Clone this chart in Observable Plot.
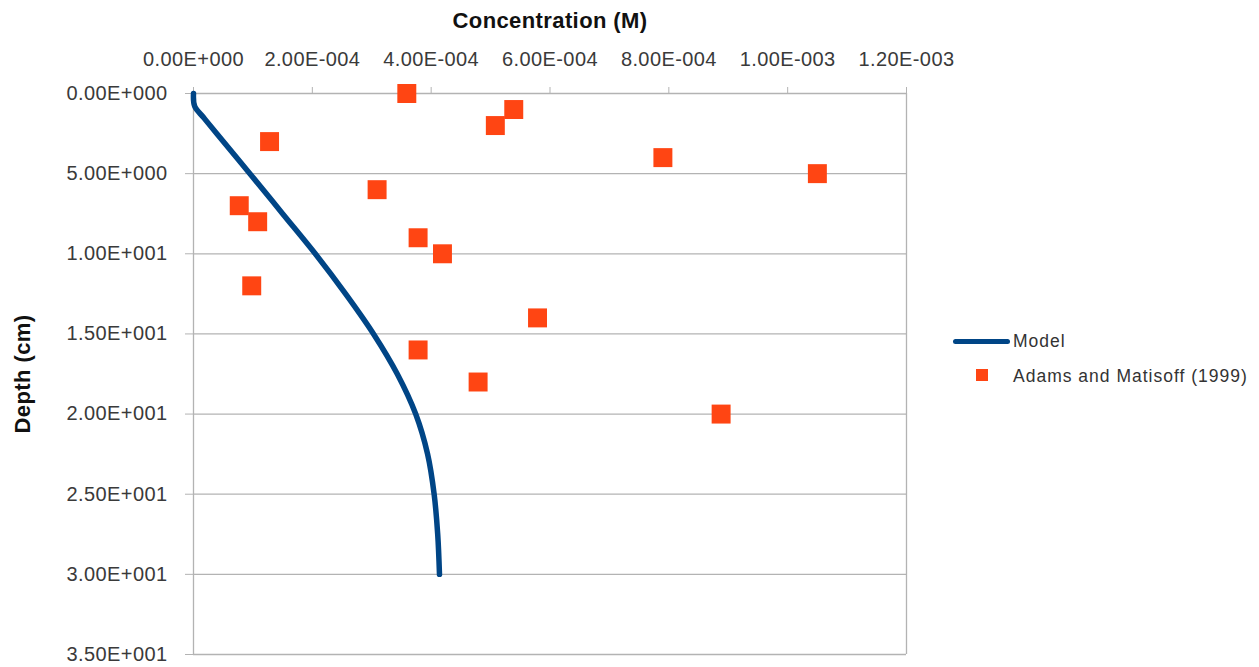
<!DOCTYPE html>
<html>
<head>
<meta charset="utf-8">
<script src="https://cdn.jsdelivr.net/npm/d3@7"></script>
<script src="https://cdn.jsdelivr.net/npm/@observablehq/plot@0.6"></script>
<style>
  html, body { margin: 0; padding: 0; background: white; }
  #wrap { position: relative; width: 1259px; height: 667px; overflow: hidden; }
  #legend { position: absolute; left: 0; top: 0; font-family: "Liberation Sans", Arial, sans-serif; font-size: 17.5px; color: #333; letter-spacing: 1px; }
  .lg-line { position: absolute; left: 953px; top: 339px; width: 57px; height: 5px; background: #004586; border-radius: 3px; }
  .lg-sq { position: absolute; left: 976px; top: 369px; width: 12px; height: 12px; background: #ff4513; }
  .lg-txt { position: absolute; left: 1013px; white-space: nowrap; line-height: 20px; }
  #chart svg text { letter-spacing: 0.4px; }
</style>
</head>
<body>
<div id="wrap">
  <div id="chart"></div>
  <div id="legend">
    <div class="lg-line"></div>
    <div class="lg-txt" style="top:331px">Model</div>
    <div class="lg-sq"></div>
    <div class="lg-txt" style="top:366px">Adams and Matisoff (1999)</div>
  </div>
</div>
<script>
// Model curve
const modelDepth = [0, 0.8, 1.5, 2.5, 5, 7.5, 10, 12.5, 15, 17.5, 20, 22.5, 25, 27.5, 30];
const modelConc  = [0, 0.02e-4, 0.17e-4, 0.39e-4, 0.95e-4, 1.50e-4, 2.05e-4, 2.56e-4, 3.03e-4, 3.43e-4, 3.74e-4, 3.94e-4, 4.05e-4, 4.11e-4, 4.14e-4];

// Adams and Matisoff (1999) observations
const obsDepth = [0, 1, 2, 3, 4, 5, 6, 7, 8, 9, 10, 12, 14, 16, 18, 20];
const obsConc  = [3.59e-4, 5.39e-4, 5.08e-4, 1.28e-4, 7.90e-4, 1.05e-3, 3.09e-4, 0.77e-4, 1.08e-4, 3.78e-4, 4.19e-4, 0.98e-4, 5.79e-4, 3.78e-4, 4.79e-4, 8.88e-4];

// Ticks
const xTicks = [0, 2e-4, 4e-4, 6e-4, 8e-4, 1e-3, 1.2e-3];
const yTicks = [0, 5, 10, 15, 20, 25, 30, 35];

function sci(v) {
  if (v === 0) return "0.00E+000";
  let e = Math.floor(Math.log10(Math.abs(v)) + 1e-9);
  let m = v / Math.pow(10, e);
  return m.toFixed(2) + "E" + (e < 0 ? "-" : "+") + String(Math.abs(e)).padStart(3, "0");
}

const model = modelDepth.map((d, i) => ({d, c: modelConc[i]}));
const obs = obsDepth.map((d, i) => ({d, c: obsConc[i]}));

const chart = Plot.plot({
  width: 1259,
  height: 667,
  marginLeft: 193,
  marginRight: 353,
  marginTop: 93,
  marginBottom: 13,
  style: {fontFamily: "'Liberation Sans', Arial, sans-serif", fontSize: "20px", background: "white", overflow: "visible"},
  x: {domain: [0, 1.2e-3], axis: null},
  y: {domain: [0, 35], reverse: true, axis: null},
  marks: [
    Plot.ruleY(yTicks, {stroke: "#b3b3b3", strokeWidth: 1.3}),
    Plot.ruleX([0, 1.2e-3], {stroke: "#b3b3b3", strokeWidth: 1.3}),
    Plot.axisX({anchor: "top", ticks: xTicks, tickFormat: sci, tickSize: 7, tickPadding: 21, stroke: "#b3b3b3", fill: "#3a3a3a", label: null, fontSize: 20}),
    Plot.axisY({anchor: "left", ticks: yTicks, tickFormat: sci, tickSize: 8, tickPadding: 18, stroke: "#b3b3b3", fill: "#3a3a3a", label: null, fontSize: 20}),
    Plot.text(["Concentration (M)"], {frameAnchor: "top", lineAnchor: "middle", dy: -73, fontWeight: "bold", fontSize: 22, fill: "#111"}),
    Plot.text(["Depth (cm)"], {frameAnchor: "left", textAnchor: "middle", lineAnchor: "middle", dx: -171, rotate: -90, fontWeight: "bold", fontSize: 22, fill: "#111"}),
    Plot.line(model, {x: "c", y: "d", stroke: "#004586", strokeWidth: 5.5, curve: "catmull-rom", strokeLinecap: "round"}),
    Plot.dot(obs, {x: "c", y: "d", symbol: "square", r: 10.7, fill: "#ff4513", stroke: null})
  ]
});
document.getElementById("chart").appendChild(chart);
</script>
</body>
</html>
